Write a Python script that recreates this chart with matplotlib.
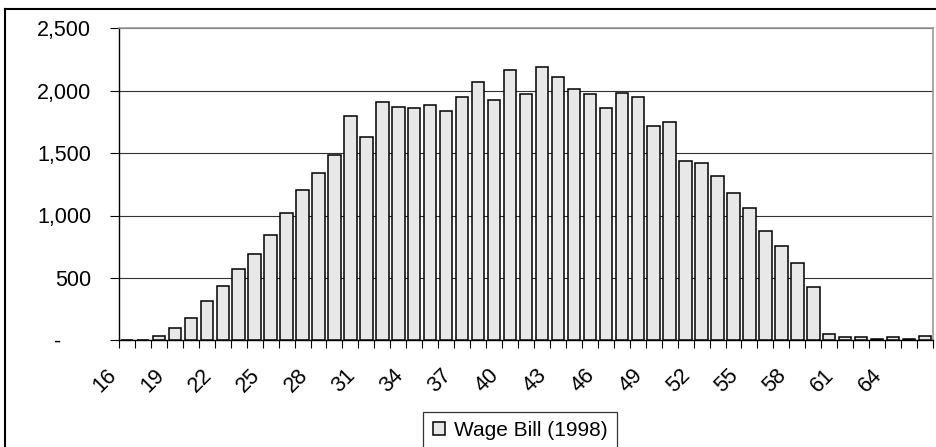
import numpy as np
import matplotlib.pyplot as plt
import matplotlib.transforms as mtransforms
from matplotlib.lines import Line2D

plt.rcParams['font.family'] = ['Liberation Sans', 'DejaVu Sans']

ages = list(range(16, 67))
wage_bill = [0, 0, 35, 96, 181, 317, 437, 571, 694, 841, 1022, 1204, 1338,
             1484, 1799, 1631, 1911, 1871, 1861, 1887, 1837, 1946, 2069, 1925,
             2165, 1970, 2192, 2106, 2010, 1970, 1861, 1983, 1946, 1717, 1751,
             1436, 1423, 1316, 1183, 1057, 878, 755, 619, 427, 50, 24, 24, 13,
             24, 13, 37]
y_ticks = [0, 500, 1000, 1500, 2000, 2500]
y_labels = ['-     ', '500', '1,000', '1,500', '2,000', '2,500']
series_name = 'Wage Bill (1998)'

fig = plt.figure(figsize=(9.37, 4.47), dpi=100)
ax = fig.add_axes([119 / 937, 1 - 340.3 / 447, (933 - 119) / 937, (340.3 - 28.3) / 447])

x = np.arange(len(ages))
ax.bar(x, wage_bill, width=0.78, color='#e8e8e8', edgecolor='black',
       linewidth=1.1, label=series_name, zorder=3)

ax.set_xlim(-0.5, len(ages) - 0.5)
ax.set_ylim(0, 2500)

# y axis
ax.set_yticks(y_ticks)
ax.set_yticklabels(y_labels, fontsize=15.5)
ax.tick_params(axis='y', direction='out', length=6.5, width=0.8, pad=13.5)
ax.yaxis.grid(True, color='#333333', linewidth=0.8, zorder=0)

# x axis: marks between categories, labels every third age
ax.set_xticks(np.arange(-0.5, len(ages), 1.0), minor=True)
ax.tick_params(axis='x', which='minor', direction='out', length=5.8, width=0.8)
lab_pos = x[::3]
ax.set_xticks(lab_pos)
ax.set_xticklabels([str(ages[i]) for i in lab_pos], fontsize=15.5,
                   rotation=45, ha='right', va='center', rotation_mode='anchor')
ax.tick_params(axis='x', which='major', length=0, pad=23)
shift = mtransforms.ScaledTranslation(-14 / 100, 0, fig.dpi_scale_trans)
for lbl in ax.get_xticklabels():
    lbl.set_transform(lbl.get_transform() + shift)

for side in ['top', 'right']:
    ax.spines[side].set_color('#999999')
    ax.spines[side].set_linewidth(1.2)
for side in ['left', 'bottom']:
    ax.spines[side].set_color('black')
    ax.spines[side].set_linewidth(1.0)

leg = fig.legend(loc='upper center', bbox_to_anchor=(520 / 937, 1 - 411.5 / 447),
                 fontsize=15, frameon=True, fancybox=False, shadow=False,
                 handlelength=0.6, handleheight=0.6, handletextpad=0.4,
                 borderpad=0.45, borderaxespad=0)
leg.get_frame().set_edgecolor('black')
leg.get_frame().set_linewidth(0.9)

# outer chart border
fig.add_artist(Line2D([5 / 937, 5 / 937], [-0.1, 1 - 9 / 447],
                      transform=fig.transFigure, color='black', linewidth=1.5))
fig.add_artist(Line2D([5 / 937, 1.1], [1 - 9 / 447, 1 - 9 / 447],
                      transform=fig.transFigure, color='black', linewidth=1.5))

fig.savefig('out.png', dpi=100)
